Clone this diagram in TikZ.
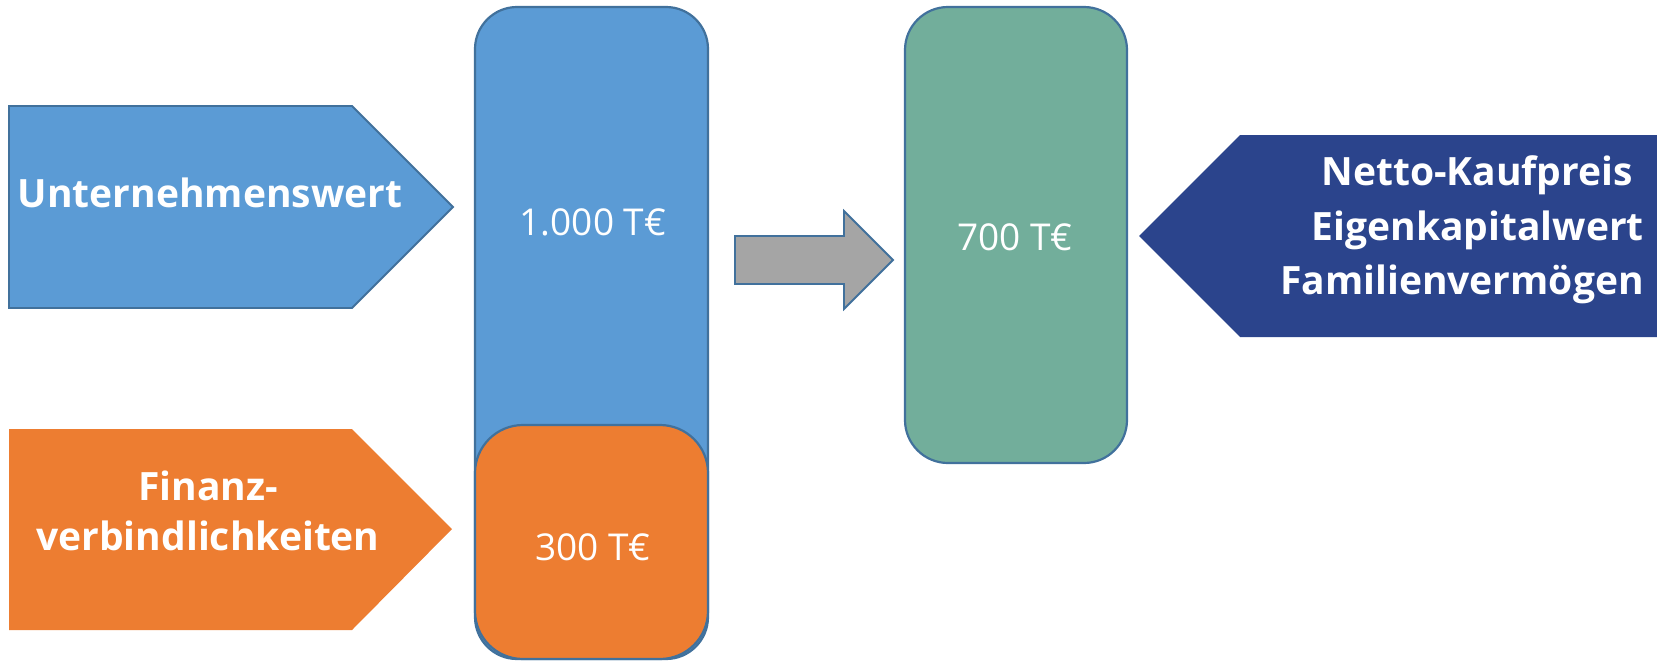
\documentclass[tikz,border=0pt]{standalone}
\usepackage{fontspec}
\setmainfont{Open Sans}
\definecolor{cblue}{HTML}{5B9BD5}
\definecolor{cborder}{HTML}{41719C}
\definecolor{corange}{HTML}{ED7D31}
\definecolor{cgreen}{HTML}{72AE9B}
\definecolor{cnavy}{HTML}{2B448C}
\definecolor{cgray}{HTML}{A5A5A5}
\tikzset{
  lbl/.style={text=white, font=\bfseries\fontsize{39}{50}\selectfont, inner sep=0pt},
  val/.style={text=white, font=\fontsize{37}{44}\selectfont, inner sep=0pt},
  bar/.style={draw=cborder, line width=2.2pt},
}
\begin{document}
\begin{tikzpicture}[x=1pt,y=-1pt]
\useasboundingbox (0,0) rectangle (1657,662);
% left pentagon arrows
\draw[fill=cblue, draw=cborder, line width=1.8pt] (9,106) -- (352,106) -- (453,207) -- (352,308) -- (9,308) -- cycle;
\fill[corange] (9,429) -- (352,429) -- (452,529) -- (352,630) -- (9,630) -- cycle;
% stacked bars
\draw[bar, fill=cblue, rounded corners=42pt] (475,7) rectangle (708,659);
\draw[bar, fill=corange, rounded corners=48pt] (475,425) rectangle (708,659);
% gray arrow
\draw[fill=cgray, draw=cborder, line width=1.8pt] (735,236) -- (844,236) -- (844,211) -- (893,260) -- (844,309) -- (844,284) -- (735,284) -- cycle;
% green bar
\draw[bar, fill=cgreen, rounded corners=43pt] (905,7) rectangle (1127,463);
% navy arrow
\fill[cnavy] (1139,236) -- (1240,135) -- (1662,135) -- (1662,337) -- (1240,337) -- cycle;
% texts
\node[lbl] (uw) at (210,193) {Unternehmenswert};
\node[lbl, align=center] (fv) at (208,511) {Finanz-\\verbindlichkeiten};
\node[val] (v1000) at (593,222) {1.000 T€};
\node[val] (v300) at (593,547) {300 T€};
\node[val] (v700) at (1015,237) {700 T€};
\node[lbl, align=right, anchor=east, font=\bfseries\fontsize{39}{54.5}\selectfont] (nk) at (1644,230) {Netto-Kaufpreis\kern0.28em\\Eigenkapitalwert\\Familienvermögen};
\end{tikzpicture}
\end{document}
